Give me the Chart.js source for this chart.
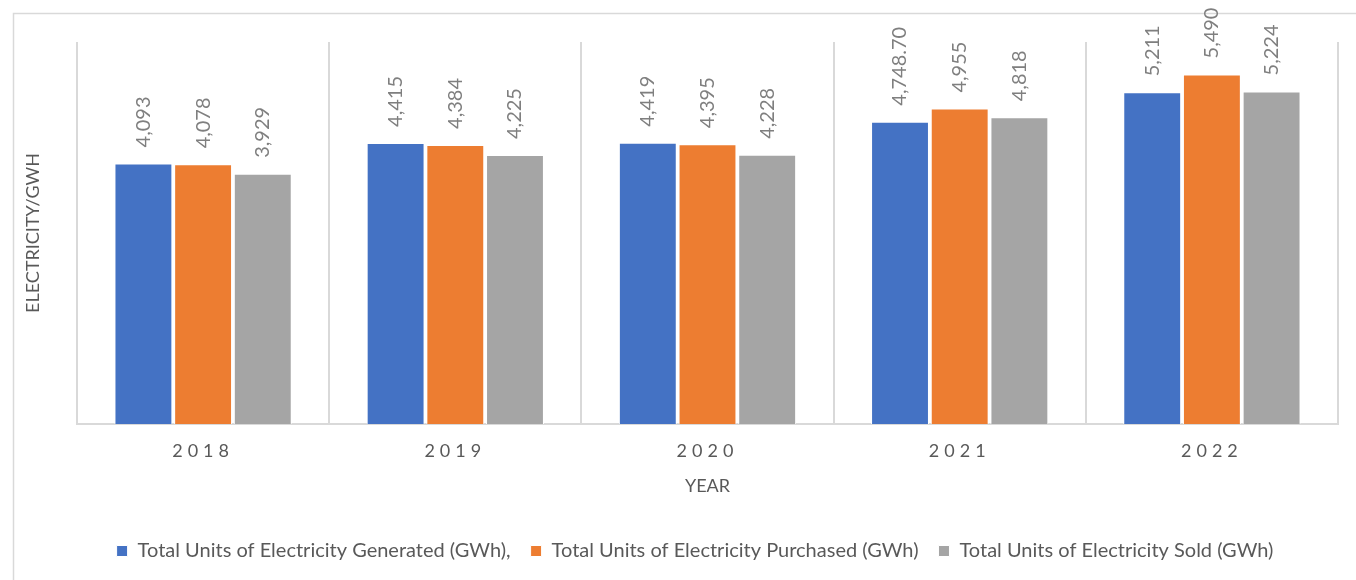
<!DOCTYPE html>
<html>
<head>
<meta charset="utf-8">
<script src="https://cdn.jsdelivr.net/npm/chart.js@4"></script>
<style>
  html, body { margin: 0; padding: 0; background: #ffffff; }
  #wrap { width: 1356px; height: 580px; position: relative; }
</style>
</head>
<body>
<div id="wrap"><canvas id="c" width="1356" height="580"></canvas></div>
<script>
const years = ["2018", "2019", "2020", "2021", "2022"];
const generated = [4093, 4415, 4419, 4748.70, 5211];
const purchased = [4078, 4384, 4395, 4955, 5490];
const sold = [3929, 4225, 4228, 4818, 5224];
const seriesNames = [
  "Total Units of Electricity Generated (GWh),",
  "Total Units of Electricity Purchased (GWh)",
  "Total Units of Electricity Sold (GWh)"
];
const yMin = 0;
const yMax = 6000;

const FONT = "Lato, 'Open Sans', 'Noto Sans', sans-serif";
const TEXT = "#595959";

function fmt(v) {
  if (Number.isInteger(v)) return v.toLocaleString("en-US");
  return v.toLocaleString("en-US", { minimumFractionDigits: 2, maximumFractionDigits: 2 });
}

const framePlugin = {
  id: "frame",
  beforeDraw(chart) {
    const ctx = chart.ctx;
    ctx.save();
    ctx.strokeStyle = "#d9d9d9";
    ctx.lineWidth = 1.5;
    ctx.strokeRect(13.5, 13.5, chart.width + 20, chart.height + 20);
    ctx.restore();
  }
};

const legendShift = {
  id: "legendShift",
  afterLayout(chart) {
    if (chart.legend) {
      chart.legend.left += 26;
      chart.legend.right += 26;
    }
  }
};

const labelPlugin = {
  id: "barLabels",
  afterDatasetsDraw(chart) {
    const ctx = chart.ctx;
    ctx.save();
    ctx.fillStyle = "#7f7f7f";
    ctx.font = "20px " + FONT;
    ctx.textAlign = "left";
    ctx.textBaseline = "middle";
    chart.data.datasets.forEach((ds, di) => {
      const meta = chart.getDatasetMeta(di);
      meta.data.forEach((el, i) => {
        ctx.save();
        ctx.translate(el.x, el.y - 16);
        ctx.rotate(-Math.PI / 2);
        ctx.fillText(fmt(ds.data[i]), 0, 0);
        ctx.restore();
      });
    });
    ctx.restore();
  }
};

const ctx = document.getElementById("c").getContext("2d");
new Chart(ctx, {
  type: "bar",
  data: {
    labels: years,
    datasets: [
      { label: seriesNames[0], data: generated, backgroundColor: "#4472C4" },
      { label: seriesNames[1], data: purchased, backgroundColor: "#ED7D31" },
      { label: seriesNames[2], data: sold, backgroundColor: "#A5A5A5" }
    ].map(d => Object.assign(d, {
      borderColor: "#ffffff",
      borderWidth: 1,
      categoryPercentage: 0.71,
      barPercentage: 0.97
    }))
  },
  options: {
    responsive: false,
    animation: false,
    devicePixelRatio: 1,
    layout: { padding: { top: 42, right: 18, left: 0, bottom: 9 } },
    plugins: {
      tooltip: { enabled: false },
      legend: {
        position: "bottom",
        labels: {
          color: TEXT,
          font: { family: FONT, size: 20 },
          boxWidth: 11,
          boxHeight: 11,
          padding: 20
        }
      }
    },
    scales: {
      x: {
        grid: {
          offset: true,
          color: "#d9d9d9",
          lineWidth: 2,
          drawTicks: false
        },
        border: { color: "#d9d9d9", width: 2 },
        ticks: {
          color: TEXT,
          font: { family: FONT, size: 18 },
          padding: 16
        },
        title: {
          display: true,
          text: "YEAR",
          color: TEXT,
          font: { family: FONT, size: 18 },
          padding: { top: 4, bottom: 24 }
        },
        afterFit(scale) {
          scale.height = 97;
          if (!scale._spaced) {
            scale._spaced = true;
            const orig = scale.drawLabels;
            scale.drawLabels = function (area) {
              const c = this.ctx;
              c.save();
              c.letterSpacing = "5px";
              orig.call(this, area);
              c.restore();
            };
          }
        }
      },
      y: {
        min: yMin,
        max: yMax,
        grid: { display: false },
        border: { display: false },
        ticks: { display: false },
        title: {
          display: true,
          text: "ELECTRICITY/GWH",
          color: TEXT,
          font: { family: FONT, size: 18 },
          padding: { top: 22 }
        },
        afterFit(scale) { scale.width = 77; }
      }
    }
  },
  plugins: [framePlugin, legendShift, labelPlugin]
});
</script>
</body>
</html>
